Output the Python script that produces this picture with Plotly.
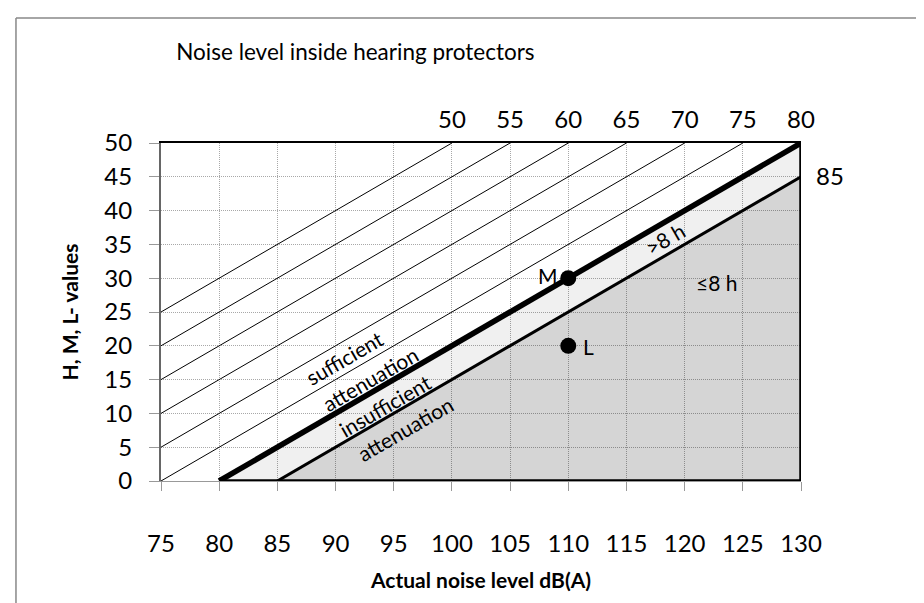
import plotly.graph_objects as go

# ---- data ----
x_ticks = [75, 80, 85, 90, 95, 100, 105, 110, 115, 120, 125, 130]
y_ticks = [0, 5, 10, 15, 20, 25, 30, 35, 40, 45, 50]
thin_levels = [50, 55, 60, 65, 70, 75]      # noise level inside protector (dB)
limit_level = 80                             # thick line: 80 dB
upper_level = 85                             # 85 dB boundary
top_tick_pos = [100, 105, 110, 115, 120, 125, 130]
top_tick_text = ["50", "55", "60", "65", "70", "75", "80"]
point_names = ["M", "L"]
point_x = [110, 110]
point_y = [30, 20]

XMIN, XMAX = 75, 130
YMIN, YMAX = 0, 50
FONT = "Lato"

def seg(level):
    x0 = max(XMIN, level + YMIN)
    x1 = min(XMAX, level + YMAX)
    return [x0, x1], [x0 - level, x1 - level]

fig = go.Figure()

# insufficient attenuation band (>8 h)
fig.add_trace(go.Scatter(
    x=[limit_level, XMAX, XMAX, upper_level, limit_level],
    y=[0, XMAX - limit_level, XMAX - upper_level, 0, 0],
    fill="toself", fillcolor="rgba(0,0,0,0.06)", mode="none",
    showlegend=False, hoverinfo="skip"))
# <= 8 h region
fig.add_trace(go.Scatter(
    x=[upper_level, XMAX, XMAX, upper_level],
    y=[0, XMAX - upper_level, 0, 0],
    fill="toself", fillcolor="rgba(0,0,0,0.165)", mode="none",
    showlegend=False, hoverinfo="skip"))

for lv in thin_levels:
    xs, ys = seg(lv)
    fig.add_trace(go.Scatter(x=xs, y=ys, mode="lines",
                             line=dict(color="black", width=1),
                             showlegend=False, hoverinfo="skip"))

xs, ys = seg(upper_level)
fig.add_trace(go.Scatter(x=xs, y=ys, mode="lines",
                         line=dict(color="black", width=3),
                         showlegend=False, hoverinfo="skip"))
# bottom & right boundary of the shaded zone
fig.add_trace(go.Scatter(x=[limit_level, XMAX, XMAX], y=[0, 0, XMAX - limit_level],
                         mode="lines", line=dict(color="black", width=3.5),
                         showlegend=False, hoverinfo="skip"))
xs, ys = seg(limit_level)
fig.add_trace(go.Scatter(x=xs, y=ys, mode="lines",
                         line=dict(color="black", width=5.5),
                         showlegend=False, hoverinfo="skip"))

fig.add_trace(go.Scatter(x=point_x, y=point_y, mode="markers",
                         marker=dict(color="black", size=16),
                         showlegend=False, hoverinfo="skip"))

# secondary axes for the 50..80 / 85 labels
fig.add_trace(go.Scatter(x=[XMIN, XMAX], y=[YMIN, YMAX], xaxis="x2", yaxis="y2",
                         mode="markers", marker=dict(opacity=0),
                         showlegend=False, hoverinfo="skip"))

tickfont = dict(family=FONT, size=24, color="black")
GRID = "#a8a8a8"
fig.update_layout(
    width=924, height=603,
    margin=dict(l=153, r=131, t=135, b=130),
    paper_bgcolor="white", plot_bgcolor="white",
    title=dict(text="Noise level inside hearing protectors",
               font=dict(family=FONT, size=22.5, color="black"),
               x=0.376, xanchor="center", y=0.927, yanchor="middle"),
    xaxis=dict(range=[XMIN, XMAX], tickvals=x_ticks, tickfont=tickfont,
               ticks="outside", ticklen=9, tickcolor="#999999",
               ticklabelstandoff=32,
               showline=True, linecolor="#999999", linewidth=1,
               showgrid=True, gridcolor=GRID, griddash="1px,1px", gridwidth=1,
               zeroline=False,
               title=dict(text="<b>Actual noise level dB(A)</b>",
                          font=dict(family=FONT, size=21, color="black"), standoff=17)),
    yaxis=dict(range=[YMIN, YMAX], tickvals=y_ticks, tickfont=tickfont,
               ticks="outside", ticklen=10, tickcolor="#999999",
               ticklabelstandoff=12,
               showline=True, linecolor="#666666", linewidth=2,
               showgrid=True, gridcolor=GRID, griddash="1px,1px", gridwidth=1,
               zeroline=False,
               title=dict(text="<b>H, M, L- values</b>",
                          font=dict(family=FONT, size=21, color="black"), standoff=20)),
    xaxis2=dict(range=[XMIN, XMAX], overlaying="x", side="top", anchor="y2",
                tickvals=top_tick_pos, ticktext=top_tick_text, tickfont=tickfont,
                ticks="", ticklabelstandoff=3,
                showline=True, linecolor="black", linewidth=2, showgrid=False,
                zeroline=False),
    yaxis2=dict(range=[YMIN, YMAX], overlaying="y", side="right", anchor="x2",
                tickvals=[XMAX - upper_level], ticktext=[str(upper_level)],
                tickfont=tickfont, ticks="", ticklabelstandoff=14,
                showline=False, showgrid=False, zeroline=False),
)

txt = dict(family=FONT, size=21, color="black")
notes = [
    ("sufficient", 90.8, 18.2, -30),
    ("attenuation", 93.0, 15.2, -30),
    ("insufficient", 94.25, 11.2, -30),
    ("attenuation", 96.0, 7.8, -30),
    (">8 h", 118.3, 35.9, -30),
    ("≤8 h", 122.7, 29.3, 0),
    ("M", 108.3, 30.4, 0),
    ("L", 111.7, 19.9, 0),
]
for t, x, y, a in notes:
    fig.add_annotation(text=t, x=x, y=y, xref="x", yref="y", showarrow=False,
                       textangle=a, font=txt)

# outer chart frame (left and top edges)
fig.add_shape(type="line", xref="paper", yref="paper",
              x0=-0.2266, y0=-0.4, x1=-0.2266, y1=1.3698,
              line=dict(color="#888888", width=1.5))
fig.add_shape(type="line", xref="paper", yref="paper",
              x0=-0.2266, y0=1.3698, x1=1.25, y1=1.3698,
              line=dict(color="#888888", width=1.5))

fig.write_html("out.html")
